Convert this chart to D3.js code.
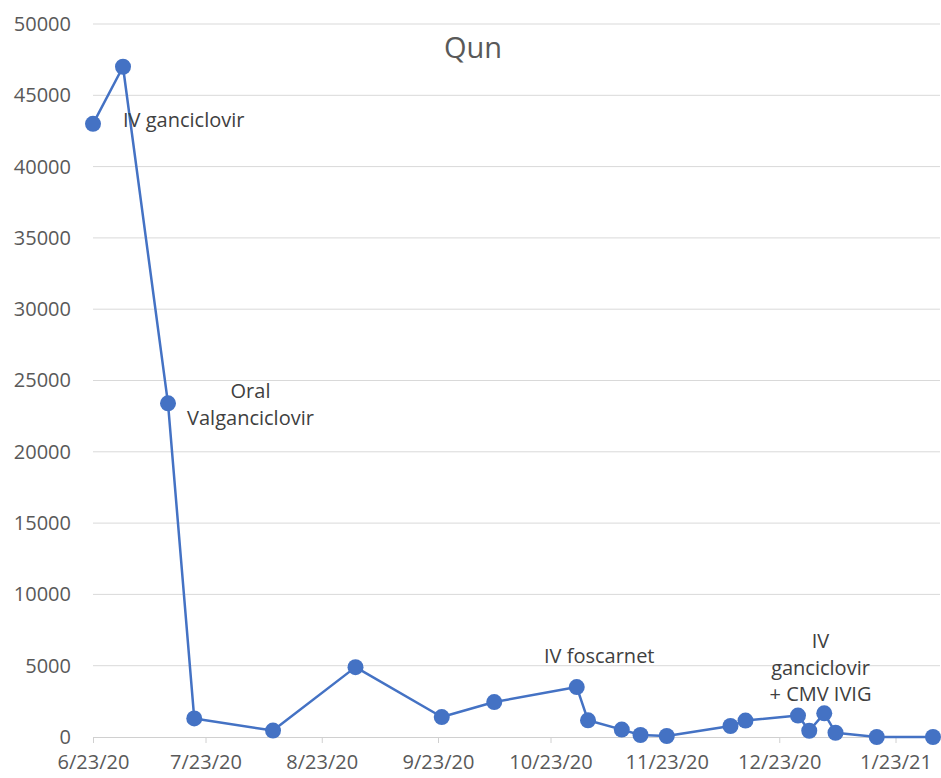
<!DOCTYPE html>
<html>
<head>
<meta charset="utf-8">
<script src="https://cdn.jsdelivr.net/npm/d3@7"></script>
<style>
  html, body { margin: 0; padding: 0; background: #fff; }
  svg { display: block; font-family: "Open Sans", "Segoe UI", sans-serif; }
</style>
</head>
<body>
<svg id="chart" width="941" height="778"></svg>
<script>
// CMV viral load readings
const dates = [
  "6/23/20", "7/1/20", "7/13/20", "7/20/20", "8/10/20", "9/1/20", "9/24/20",
  "10/8/20", "10/30/20", "11/2/20", "11/11/20", "11/16/20", "11/23/20",
  "12/10/20", "12/14/20", "12/28/20", "12/31/20", "1/4/21", "1/7/21",
  "1/18/21", "2/2/21"
];
const loads = [
  43000, 47000, 23400, 1300, 450, 4900, 1400,
  2450, 3500, 1170, 520, 140, 70,
  770, 1150, 1500, 440, 1660, 300,
  0, 0
];
const yTicks = [0, 5000, 10000, 15000, 20000, 25000, 30000, 35000, 40000, 45000, 50000];
const xTickLabels = ["6/23/20", "7/23/20", "8/23/20", "9/23/20", "10/23/20", "11/23/20", "12/23/20", "1/23/21"];
const title = "Qun";

// Treatment notes, anchored to a date and a viral-load level (first line baseline)
const notes = [
  { lines: ["IV ganciclovir"], date: "7/1/20", level: 42800, anchor: "start" },
  { lines: ["Oral", "Valganciclovir"], date: "8/4/20", level: 23770, anchor: "middle" },
  { lines: ["IV foscarnet"], date: "11/5/20", level: 5190, anchor: "middle" },
  { lines: ["IV", "ganciclovir", "+ CMV IVIG"], date: "1/3/21", level: 6240, anchor: "middle" }
];

const parse = d3.timeParse("%m/%d/%y");
const data = dates.map((d, i) => ({ date: parse(d), value: loads[i] }));

const svg = d3.select("#chart");
const plotLeft = 93, plotRight = 933, plotTop = 24, plotBottom = 737;

const x = d3.scaleTime()
  .domain([parse(dates[0]), parse(dates[dates.length - 1])])
  .range([plotLeft, plotRight]);
const y = d3.scaleLinear().domain([0, 50000]).range([plotBottom, plotTop]);

// Horizontal gridlines
svg.append("g")
  .selectAll("line")
  .data(yTicks.filter(v => v > 0))
  .join("line")
  .attr("x1", plotLeft).attr("x2", 940)
  .attr("y1", d => y(d)).attr("y2", d => y(d))
  .attr("stroke", "#d9d9d9").attr("stroke-width", 1);

// Y axis labels
const yAxis = d3.axisLeft(y).tickValues(yTicks).tickFormat(d3.format("d")).tickSize(0).tickPadding(22);
svg.append("g")
  .attr("transform", `translate(${plotLeft},0)`)
  .call(yAxis)
  .call(g => g.select(".domain").remove())
  .call(g => g.selectAll("text")
    .attr("fill", "#595959")
    .attr("font-size", 20)
    .attr("font-family", "'Open Sans', sans-serif"));

// X axis with monthly ticks
const xTicks = xTickLabels.map(parse);
const xAxis = d3.axisBottom(x).tickValues(xTicks).tickFormat(d3.timeFormat("%-m/%-d/%y")).tickSize(6).tickPadding(12);
svg.append("g")
  .attr("transform", `translate(0,${plotBottom})`)
  .call(xAxis)
  .call(g => g.select(".domain").attr("d", `M${plotLeft},0.5H940`).attr("stroke", "#d0d0d0"))
  .call(g => g.selectAll(".tick line").attr("stroke", "#d0d0d0"))
  .call(g => g.selectAll("text")
    .attr("fill", "#595959")
    .attr("font-size", 20)
    .attr("font-family", "'Open Sans', sans-serif"));

// Title
svg.append("text")
  .attr("x", 473).attr("y", 58)
  .attr("text-anchor", "middle")
  .attr("fill", "#595959")
  .attr("font-size", 29)
  .text(title);

// Series line and markers
const line = d3.line().x(d => x(d.date)).y(d => y(d.value));
svg.append("path")
  .datum(data)
  .attr("fill", "none")
  .attr("stroke", "#4472c4")
  .attr("stroke-width", 2.5)
  .attr("stroke-linejoin", "round")
  .attr("d", line);

svg.append("g")
  .selectAll("circle")
  .data(data)
  .join("circle")
  .attr("cx", d => x(d.date))
  .attr("cy", d => y(d.value))
  .attr("r", 8)
  .attr("fill", "#4472c4");

// Treatment notes
const noteG = svg.append("g").attr("fill", "#404040").attr("font-size", 20);
notes.forEach(n => {
  const t = noteG.append("text")
    .attr("x", x(parse(n.date)))
    .attr("y", y(n.level))
    .attr("text-anchor", n.anchor);
  n.lines.forEach((s, i) => {
    t.append("tspan")
      .attr("x", x(parse(n.date)))
      .attr("dy", i === 0 ? 0 : 26.5)
      .text(s);
  });
});
</script>
</body>
</html>
